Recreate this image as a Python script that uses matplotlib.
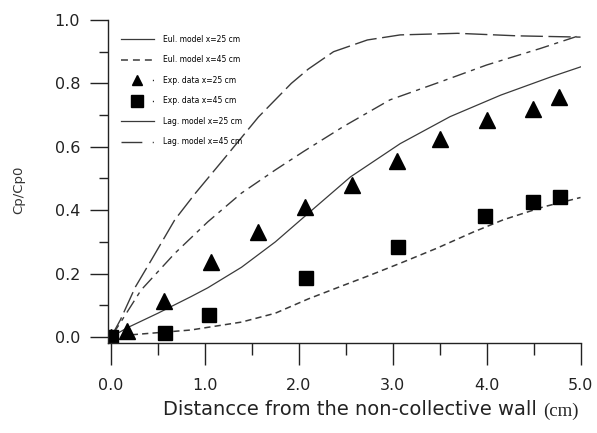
import numpy as np
import matplotlib
matplotlib.use('Agg')
from matplotlib import pyplot as plt
from matplotlib.lines import Line2D

plt.rcParams['font.family'] = ['DejaVu Sans']
plt.rcParams['lines.scale_dashes'] = False

# experimental points
exp25_x = [0.0, 0.17, 0.56, 1.06, 1.57, 2.07, 2.57, 3.05, 3.5, 4.0, 4.49, 4.77]
exp25_y = [0.0, 0.02, 0.115, 0.237, 0.33, 0.41, 0.48, 0.555, 0.624, 0.685, 0.72, 0.757]
exp45_x = [0.0, 0.57, 1.04, 2.08, 3.06, 3.98, 4.49, 4.78]
exp45_y = [0.0, 0.013, 0.068, 0.186, 0.284, 0.382, 0.426, 0.442]

# model curves
eul25_x = [0, 0.18, 0.5, 0.85, 1.03, 1.39, 1.75, 2.1, 2.55, 3.08, 3.61, 4.15, 4.68, 5.0]
eul25_y = [0, 0.03, 0.075, 0.127, 0.155, 0.22, 0.30, 0.39, 0.505, 0.61, 0.695, 0.763, 0.82, 0.852]
eul45_x = [0, 0.18, 0.85, 1.39, 1.75, 2.1, 2.45, 2.76, 3.1, 3.47, 3.85, 4.18, 4.6, 5.0]
eul45_y = [0, 0.006, 0.022, 0.047, 0.075, 0.12, 0.16, 0.195, 0.235, 0.28, 0.33, 0.37, 0.41, 0.44]
lag25_x = [0, 0.1, 0.26, 0.43, 0.68, 0.9, 1.22, 1.57, 1.92, 2.1, 2.37, 2.73, 3.08, 3.69, 4.33, 5.0]
lag25_y = [0, 0.054, 0.158, 0.243, 0.37, 0.454, 0.568, 0.694, 0.80, 0.845, 0.9, 0.937, 0.953, 0.958, 0.95, 0.946]
lag45_x = [0, 0.1, 0.32, 0.68, 1.03, 1.39, 1.75, 2.05, 2.47, 2.97, 3.5, 4.0, 4.57, 5.0]
lag45_y = [0, 0.045, 0.148, 0.264, 0.363, 0.454, 0.527, 0.585, 0.663, 0.748, 0.804, 0.858, 0.91, 0.952]

labels = ['Eul. model x=25 cm', 'Eul. model x=45 cm', 'Exp. data x=25 cm',
          'Exp. data x=45 cm', 'Lag. model x=25 cm', 'Lag. model x=45 cm']

lc = '#3a3a3a'
ac = '#222222'

fig = plt.figure(figsize=(5.97, 4.33), dpi=100)
ax = fig.add_axes([108 / 597, 1 - 343 / 433, 473 / 597, 323 / 433])

ax.plot(eul25_x, eul25_y, color=lc, lw=0.9, ls='-')
ax.plot(eul45_x, eul45_y, color=lc, lw=1.1, ls=(0, (4.5, 3.0)))
ax.plot(lag25_x, lag25_y, color=lc, lw=1.0, ls=(0, (16, 4)))
ax.plot(lag45_x, lag45_y, color=lc, lw=1.0, ls=(0, (10, 4, 3, 4)))
ax.plot(exp25_x, exp25_y, ls='none', marker='^', ms=11.5, color='black')
ax.plot(exp45_x, exp45_y, ls='none', marker='s', ms=10.5, color='black')

ax.set_xlim(-0.032, 5.005)
ax.set_ylim(-0.019, 1.0)
ax.spines['top'].set_visible(False)
ax.spines['right'].set_visible(False)
ax.set_xticks(np.arange(0, 5.01, 1.0))
ax.set_xticks(np.arange(0.5, 5, 1.0), minor=True)
ax.set_yticks(np.arange(0, 1.01, 0.2))
ax.set_yticks(np.arange(0.1, 1.0, 0.2), minor=True)
ax.set_xticklabels(['%.1f' % v for v in np.arange(0, 5.01, 1.0)])
ax.set_yticklabels(['%.1f' % v for v in np.arange(0, 1.01, 0.2)])
ax.tick_params(axis='x', which='major', direction='out', length=16, width=1, labelsize=11.5, pad=9, colors=ac)
ax.tick_params(axis='x', which='minor', direction='out', length=8.5, width=1, colors=ac)
ax.tick_params(axis='y', which='major', direction='out', length=13, width=1, labelsize=11.5, pad=7, colors=ac)
ax.tick_params(axis='y', which='minor', direction='out', length=6.5, width=1, colors=ac)
for s in ['left', 'bottom']:
    ax.spines[s].set_color(ac)
    ax.spines[s].set_linewidth(1.0)

xl = ax.set_xlabel('Distancce from the non-collective wall', fontsize=14, color=ac)
ax.xaxis.set_label_coords(0.512, -0.176)
ax.annotate('(cm)', xy=(1, 0), xycoords=xl, xytext=(4, -1), textcoords='offset points',
            ha='left', va='bottom', fontsize=13.5, family='Liberation Serif', color=ac)
ax.set_ylabel('Cp/Cp0', fontsize=9.5, color='#333333')
ax.yaxis.set_label_coords(-0.175, 0.474)

handles = [
    Line2D([], [], color=lc, lw=0.9, ls='-'),
    Line2D([], [], color=lc, lw=1.1, ls=(0, (5, 3.6))),
    Line2D([], [], color='black', lw=1.0, ls=(8.0, (0.7, 29.9)), marker='^', ms=7),
    Line2D([], [], color='black', lw=1.0, ls=(8.0, (0.7, 29.9)), marker='s', ms=8),
    Line2D([], [], color=lc, lw=0.9, ls='-'),
    Line2D([], [], color=lc, lw=1.0, ls=(0, (15, 7.5, 0.8, 30))),
]
leg = ax.legend(handles, labels, loc='upper left', frameon=False, fontsize=5.5,
                bbox_to_anchor=(121 / 597, 1 - 35 / 433), bbox_transform=fig.transFigure,
                borderpad=0, borderaxespad=0, handlelength=4.3, handletextpad=1.2,
                labelspacing=1.5, numpoints=1)

plt.savefig('out.png', dpi=100)
